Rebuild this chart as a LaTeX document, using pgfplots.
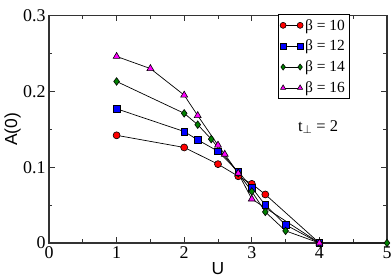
\documentclass[border=0pt]{standalone}
\usepackage{fontspec}
\setmainfont{Liberation Serif}
\newfontfamily\lsans{Liberation Sans}
\usepackage{pgfplots}
\pgfplotsset{compat=1.18}
\definecolor{mgreen}{RGB}{0,128,0}
\definecolor{mred}{RGB}{255,0,0}
\definecolor{mblue}{RGB}{0,0,255}
\definecolor{mmag}{RGB}{255,0,255}

\begin{document}
\begin{tikzpicture}
\begin{axis}[name=ax, scale only axis, width=338bp, height=227.5bp,
 xmin=0, xmax=5, ymin=0, ymax=0.3, clip=false,
 xtick={0,1,2,3,4,5}, ytick={0,0.1,0.2,0.3},
 minor xtick={0.5,1.5,2.5,3.5,4.5}, minor ytick={0.05,0.15,0.25},
 tick align=inside, major tick length=6bp, minor tick length=3.5bp,
 scaled ticks=false,
 ticklabel style={font=\fontsize{18}{20}\selectfont},
 /pgf/number format/assume math mode=true,
 yticklabel style={/pgf/number format/fixed, /pgf/number format/precision=1},
 xlabel={U}, ylabel={A(0)},
 label style={font=\fontsize{17.5}{20}\selectfont\lsans},
 xlabel style={at={(axis description cs:0.5,-0.112)}, anchor=center},
 ylabel style={at={(axis description cs:-0.108,0.5)}, anchor=center},
 axis line style={line width=1.1bp, black!80},
 every tick/.style={black!80, line width=0.8bp},
 legend style={at={(0.888,1.005)}, anchor=north east, draw=black, line width=0.6bp,
   font=\fontsize{15.5}{16}\selectfont, inner xsep=2bp, inner ysep=2.5bp, row sep=4.5bp},
 legend cell align=left,
 legend image code/.code={\draw[mark repeat=1,#1,mark size=3bp] plot coordinates {(0bp,0bp) (17bp,0bp)};},
]
\addplot[black, line width=0.7bp, mark=*, mark size=3.5bp, mark options={fill=mred, draw=black, line width=0.6bp, solid}]
 coordinates {(1,0.142) (2,0.126) (2.5,0.104) (2.8,0.088) (3,0.078) (3.2,0.064) (4,0)};
\addlegendentry{β = 10}
\addplot[black, line width=0.7bp, mark=square*, mark size=3.3bp, mark options={fill=mblue, draw=black, line width=0.6bp, solid}]
 coordinates {(1,0.177) (2,0.147) (2.2,0.136) (2.5,0.121) (2.8,0.094) (3,0.073) (3.2,0.050) (3.5,0.024) (4,0)};
\addlegendentry{β = 12}
\addplot[black, line width=0.7bp, mark=diamond*, mark size=3.8bp, mark options={fill=mgreen, draw=black, line width=0.6bp, solid}]
 coordinates {(1,0.213) (2,0.171) (2.2,0.156) (2.4,0.137) (2.8,0.092) (3,0.068) (3.2,0.041) (3.5,0.016) (4,0) (5,0)};
\addlegendentry{β = 14}
\addplot[black, line width=0.7bp, mark=triangle*, mark size=4bp, mark options={fill=mmag, draw=black, line width=0.6bp, solid}]
 coordinates {(1,0.246) (1.5,0.230) (2,0.195) (2.2,0.168) (2.5,0.129) (2.6,0.117) (2.8,0.092) (3,0.058) (4,0)};
\addlegendentry{β = 16}
\node[font=\fontsize{16.5}{18}\selectfont] at (axis cs:3.98,0.153) {t\textsubscript{$\perp$} = 2};
\end{axis}
\pgfresetboundingbox
\path ([shift={(-49bp,-37bp)}]ax.south west) rectangle ([shift={(5bp,15.5bp)}]ax.north east);
\end{tikzpicture}
\end{document}
